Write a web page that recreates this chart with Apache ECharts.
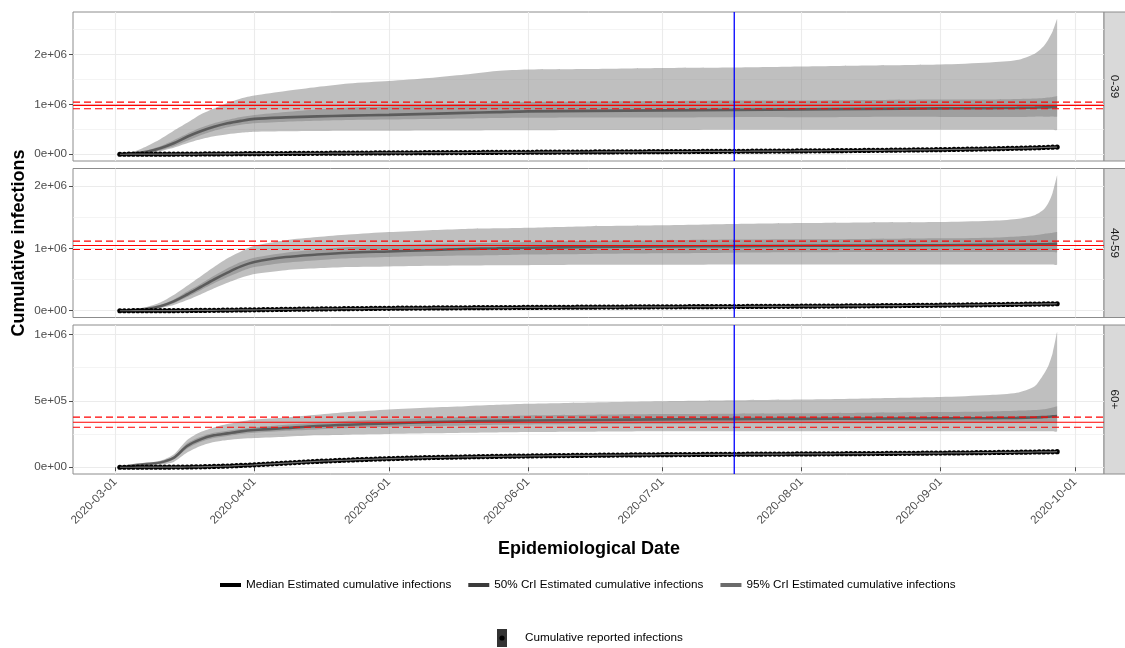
<!DOCTYPE html>
<html><head><meta charset="utf-8">
<script src="https://cdn.jsdelivr.net/npm/echarts@6/dist/echarts.min.js"></script>
<style>html,body{margin:0;padding:0;background:#fff}#c{width:1125px;height:648px}</style>
</head><body><div id="c"></div>
<script>
// ---------------- DATA ----------------
const panels = ['0-39', '40-59', '60+'];
const xTickLabels = ['2020-03-01','2020-04-01','2020-05-01','2020-06-01','2020-07-01','2020-08-01','2020-09-01','2020-10-01'];
const yTicks = [[0, 1e6, 2e6], [0, 1e6, 2e6], [0, 5e5, 1e6]];
const yTickLabels = [['0e+00','1e+06','2e+06'], ['0e+00','1e+06','2e+06'], ['0e+00','5e+05','1e+06']];
const yMinorTicks = [[5e5, 1.5e6, 2.5e6], [5e5, 1.5e6], [2.5e5, 7.5e5]];

// dates at which the estimated curves were read (values in millions)
const bandDates = ['2020-03-02','2020-03-05','2020-03-08','2020-03-11','2020-03-14','2020-03-17','2020-03-20','2020-03-23','2020-03-26','2020-03-29','2020-04-01','2020-04-08','2020-04-15','2020-04-22','2020-05-01','2020-05-10','2020-05-18','2020-05-25','2020-06-01','2020-06-15','2020-07-01','2020-07-17','2020-08-01','2020-08-16','2020-09-01','2020-09-12','2020-09-18','2020-09-22','2020-09-24','2020-09-25','2020-09-26','2020-09-27'];

const med_0_39  = [0,0.02,0.05,0.12,0.22,0.35,0.46,0.55,0.62,0.67,0.71,0.74,0.76,0.775,0.79,0.81,0.83,0.845,0.86,0.87,0.88,0.89,0.9,0.91,0.92,0.925,0.93,0.935,0.94,0.94,0.945,0.95];
const hi95_0_39 = [0,0.05,0.16,0.3,0.47,0.63,0.8,0.92,1.03,1.12,1.18,1.27,1.35,1.42,1.47,1.53,1.6,1.67,1.7,1.71,1.73,1.74,1.76,1.78,1.8,1.84,1.89,2.02,2.17,2.3,2.47,2.72];
const lo95_0_39 = [0,0,0.02,0.06,0.13,0.22,0.3,0.36,0.4,0.43,0.45,0.46,0.465,0.47,0.47,0.475,0.475,0.48,0.48,0.485,0.485,0.49,0.49,0.49,0.49,0.49,0.49,0.49,0.49,0.49,0.49,0.49];
const hi50_0_39 = [0,0.03,0.08,0.16,0.28,0.41,0.53,0.62,0.69,0.75,0.79,0.85,0.9,0.94,0.96,0.99,1.01,1.03,1.05,1.06,1.07,1.08,1.08,1.09,1.1,1.1,1.11,1.12,1.13,1.14,1.15,1.17];
const lo50_0_39 = [0,0.01,0.03,0.08,0.16,0.27,0.38,0.47,0.54,0.59,0.62,0.65,0.67,0.685,0.695,0.705,0.715,0.725,0.73,0.735,0.74,0.745,0.745,0.75,0.75,0.75,0.75,0.755,0.755,0.755,0.76,0.76];

const med_40_59  = [0,0.01,0.03,0.07,0.15,0.26,0.38,0.5,0.61,0.71,0.78,0.86,0.9,0.93,0.95,0.97,0.99,1.0,1.01,1.02,1.03,1.035,1.04,1.045,1.05,1.055,1.058,1.062,1.065,1.067,1.07,1.072];
const hi95_40_59 = [0,0.02,0.06,0.13,0.25,0.4,0.55,0.7,0.84,0.95,1.04,1.13,1.18,1.22,1.26,1.29,1.31,1.32,1.33,1.355,1.37,1.39,1.405,1.415,1.42,1.44,1.47,1.53,1.62,1.72,1.89,2.17];
const lo95_40_59 = [0,0,0.01,0.04,0.09,0.17,0.26,0.36,0.45,0.53,0.59,0.65,0.68,0.7,0.71,0.72,0.725,0.73,0.73,0.735,0.735,0.74,0.74,0.74,0.74,0.74,0.74,0.74,0.74,0.74,0.74,0.74];
const hi50_40_59 = [0,0.012,0.04,0.09,0.18,0.31,0.43,0.56,0.68,0.78,0.85,0.93,0.98,1.02,1.05,1.07,1.08,1.09,1.1,1.12,1.13,1.14,1.145,1.15,1.16,1.17,1.19,1.21,1.23,1.24,1.25,1.26];
const lo50_40_59 = [0,0.006,0.02,0.05,0.12,0.22,0.33,0.44,0.54,0.63,0.7,0.77,0.81,0.84,0.86,0.875,0.885,0.89,0.9,0.91,0.92,0.93,0.935,0.94,0.94,0.94,0.94,0.94,0.94,0.94,0.94,0.94];

const med_60  = [0,0.015,0.025,0.035,0.07,0.16,0.21,0.24,0.255,0.27,0.28,0.295,0.31,0.32,0.33,0.34,0.345,0.35,0.352,0.356,0.36,0.362,0.364,0.366,0.368,0.37,0.372,0.375,0.378,0.38,0.383,0.386];
const hi95_60 = [0,0.022,0.033,0.048,0.095,0.205,0.265,0.3,0.325,0.345,0.36,0.375,0.395,0.415,0.435,0.45,0.46,0.47,0.478,0.488,0.497,0.504,0.51,0.518,0.528,0.543,0.56,0.61,0.7,0.76,0.86,1.02];
const lo95_60 = [0,0.005,0.012,0.02,0.04,0.11,0.16,0.19,0.205,0.215,0.22,0.23,0.24,0.245,0.25,0.255,0.26,0.262,0.265,0.267,0.27,0.27,0.27,0.27,0.27,0.27,0.27,0.27,0.27,0.27,0.27,0.27];
const hi50_60 = [0,0.017,0.028,0.04,0.08,0.18,0.23,0.26,0.275,0.29,0.3,0.32,0.335,0.35,0.36,0.37,0.378,0.385,0.39,0.395,0.4,0.403,0.406,0.41,0.415,0.42,0.425,0.43,0.437,0.443,0.45,0.46];
const lo50_60 = [0,0.012,0.02,0.03,0.06,0.14,0.19,0.22,0.235,0.25,0.26,0.275,0.285,0.295,0.305,0.31,0.315,0.32,0.322,0.325,0.328,0.33,0.331,0.332,0.333,0.334,0.334,0.335,0.335,0.335,0.335,0.335];

// daily cumulative reported infections (thousands), one value per day from reportStart
const reportStart = '2020-03-02';
const rep_0_39 = [
0,0,0.1,0.1,0.2,0.3,0.4,0.5,0.7,0.9,1.1,1.4,1.7,2.1,2.5,3.0,3.5,4.0,4.6,5.2,5.8,6.4,7.0,7.6,8.1,8.7,9.2,9.7,10.2,10.7,
11.2,11.8,12.3,12.9,13.4,13.9,14.5,15.0,15.5,16.1,16.6,17.1,17.6,18.2,18.7,19.2,19.7,20.3,20.8,21.3,21.8,22.3,22.8,23.4,23.9,24.4,24.9,25.4,25.9,26.4,
26.8,27.2,27.7,28.1,28.5,28.9,29.3,29.8,30.2,30.6,31.0,31.4,31.8,32.3,32.7,33.1,33.5,33.9,34.3,34.7,35.1,35.5,35.9,36.3,36.7,37.2,37.6,38.0,38.4,38.8,39.2,
39.6,40.0,40.3,40.7,41.2,41.6,41.9,42.3,42.8,43.2,43.5,43.9,44.4,44.8,45.1,45.5,46.0,46.4,46.7,47.1,47.6,48.0,48.3,48.7,49.2,49.6,49.9,50.3,50.8,51.2,
51.6,52.0,52.5,52.9,53.3,53.8,54.2,54.6,55.1,55.5,55.9,56.4,56.8,57.3,57.7,58.2,58.7,59.1,59.6,60.1,60.6,61.1,61.6,62.1,62.6,63.1,63.7,64.2,64.8,65.3,65.9,
66.5,67.1,67.7,68.3,68.9,69.6,70.2,70.9,71.6,72.3,73.0,73.7,74.5,75.2,76.0,76.8,77.6,78.4,79.3,80.1,81.0,81.9,82.8,83.7,84.7,85.7,86.7,87.7,88.8,89.9,91.0,
92.2,93.5,94.8,96.2,97.6,99.0,100.5,102.0,103.6,105.2,106.9,108.6,110.4,112.2,114.1,116.0,118.0,120.0,122.1,124.3,126.8,129.4,132.1,134.9,137.8,140.8,144.0];
const rep_40_59 = [
0,0,0,0.1,0.1,0.2,0.3,0.4,0.5,0.7,0.9,1.2,1.5,1.9,2.4,2.9,3.5,4.1,4.8,5.5,6.3,7.1,7.9,8.7,9.6,10.4,11.3,12.1,13.0,13.8,
14.8,15.8,16.8,17.8,18.8,19.7,20.7,21.6,22.5,23.4,24.3,25.2,26.0,26.9,27.7,28.5,29.3,30.1,30.9,31.6,32.4,33.1,33.8,34.5,35.2,35.9,36.5,37.2,37.8,38.4,
39.0,39.6,40.1,40.7,41.2,41.7,42.2,42.7,43.2,43.7,44.2,44.6,45.1,45.5,46.0,46.4,46.8,47.3,47.7,48.1,48.5,48.9,49.3,49.7,50.1,50.5,50.9,51.3,51.6,52.0,52.4,
52.7,53.1,53.4,53.8,54.1,54.5,54.8,55.1,55.5,55.8,56.1,56.5,56.8,57.1,57.4,57.7,58.1,58.4,58.7,59.0,59.3,59.6,59.9,60.2,60.6,60.9,61.2,61.5,61.8,62.1,
62.4,62.7,63.0,63.3,63.6,63.9,64.2,64.5,64.8,65.1,65.4,65.7,66.0,66.3,66.6,66.9,67.2,67.5,67.9,68.2,68.5,68.8,69.1,69.5,69.8,70.1,70.5,70.8,71.2,71.5,71.9,
72.3,72.7,73.1,73.5,73.9,74.3,74.7,75.2,75.6,76.1,76.5,77.0,77.5,78.0,78.5,79.0,79.5,80.0,80.6,81.1,81.7,82.3,82.8,83.4,84.0,84.6,85.2,85.9,86.5,87.2,87.8,
88.5,89.2,89.9,90.6,91.4,92.1,92.9,93.7,94.5,95.3,96.1,97.0,97.8,98.7,99.6,100.5,101.4,102.3,103.3,104.2,105.2,106.2,107.2,108.2,109.2,110.3,111.4];
const rep_60 = [
0,0,0,0,0.1,0.1,0.2,0.2,0.3,0.4,0.5,0.7,0.9,1.1,1.4,1.8,2.2,2.7,3.3,4.0,4.8,5.7,6.7,7.8,9.0,10.3,11.7,13.2,14.8,16.4,
18.1,20.0,21.9,23.9,25.8,27.7,29.6,31.5,33.4,35.2,37.0,38.8,40.5,42.2,43.8,45.4,46.9,48.4,49.9,51.3,52.7,54.0,55.3,56.6,57.8,59.0,60.2,61.3,62.4,63.5,
64.5,65.5,66.5,67.4,68.3,69.2,70.0,70.8,71.6,72.4,73.1,73.8,74.5,75.2,75.8,76.5,77.1,77.7,78.3,78.9,79.4,80.0,80.5,81.0,81.5,82.0,82.5,83.0,83.4,83.9,84.3,
84.7,85.1,85.5,85.9,86.3,86.7,87.1,87.4,87.8,88.1,88.5,88.8,89.1,89.5,89.8,90.1,90.4,90.7,91.0,91.3,91.6,91.9,92.2,92.4,92.7,93.0,93.2,93.5,93.7,94.0,
94.2,94.4,94.7,94.9,95.1,95.3,95.5,95.7,95.9,96.1,96.3,96.5,96.7,96.9,97.1,97.3,97.5,97.7,97.8,98.0,98.2,98.4,98.5,98.7,98.9,99.0,99.2,99.4,99.5,99.7,99.9,
100.0,100.2,100.4,100.5,100.7,100.9,101.0,101.2,101.4,101.6,101.8,102.0,102.2,102.4,102.6,102.8,103.0,103.2,103.4,103.7,103.9,104.1,104.4,104.6,104.9,105.1,105.4,105.6,105.9,106.2,106.5,
106.8,107.1,107.4,107.7,108.0,108.4,108.7,109.0,109.4,109.7,110.1,110.5,110.8,111.2,111.6,112.0,112.4,112.8,113.2,113.6,114.0,114.5,114.9,115.4,115.8,116.3,116.8];

// reference (red) lines per panel, in millions
const refMid = [0.98, 1.045, 0.339];
const refLo  = [0.914, 0.98, 0.301];
const refHi  = [1.046, 1.115, 0.377];
const interventionDate = '2020-07-17';

const NAME_MED = 'Median Estimated cumulative infections';
const NAME_50 = '50% CrI Estimated cumulative infections';
const NAME_95 = '95% CrI Estimated cumulative infections';
const NAME_REP = 'Cumulative reported infections';

// ---------------- BUILD ----------------
const FONT = "'Liberation Sans', Arial, Helvetica, sans-serif";
const DAY = 86400000;
const toT = s => Date.UTC(+s.slice(0, 4), +s.slice(5, 7) - 1, +s.slice(8, 10));
const panelData = [
  {med: med_0_39, hi95: hi95_0_39, lo95: lo95_0_39, hi50: hi50_0_39, lo50: lo50_0_39, rep: rep_0_39},
  {med: med_40_59, hi95: hi95_40_59, lo95: lo95_40_59, hi50: hi50_40_59, lo50: lo50_40_59, rep: rep_40_59},
  {med: med_60, hi95: hi95_60, lo95: lo95_60, hi50: hi50_60, lo50: lo50_60, rep: rep_60}
];
const bandX = bandDates.map(toT);
const xTickVals = xTickLabels.map(toT);
const t0 = toT(reportStart);
const nRep = Math.max(rep_0_39.length, rep_40_59.length, rep_60.length);
const tEnd = t0 + (nRep - 1) * DAY;
const xSpan = tEnd - t0;
const xMin = t0 - 0.05 * xSpan, xMax = tEnd + 0.05 * xSpan;
const tBlue = toT(interventionDate);

const gridTop = [12, 168.5, 325], gridH = 149, gridLeft = 73, gridRight = 21;
const grid = [], xAxis = [], yAxis = [], series = [], graphic = [];
const borderCol = '#8c8c8c';
const BAND_FILL = 'rgba(127,127,127,0.5)';

function bandSeries(p, lo, hi, name, z) {
  return {
    type: 'custom', name, xAxisIndex: p, yAxisIndex: 2 * p, z, silent: true, animation: false,
    data: bandX.map((x, i) => [x, lo[i] * 1e6, hi[i] * 1e6]),
    encode: {x: 0, y: [1, 2]},
    itemStyle: {color: BAND_FILL},
    renderItem: (params, api) => {
      if (params.dataIndex !== 0) return null;
      const up = bandX.map((x, i) => api.coord([x, hi[i] * 1e6]));
      const dn = bandX.map((x, i) => api.coord([x, lo[i] * 1e6])).reverse();
      const pts = up.concat(dn);
      let x0 = Infinity, y0 = Infinity, x1 = -Infinity, y1 = -Infinity;
      pts.forEach(q => { x0 = Math.min(x0, q[0]); y0 = Math.min(y0, q[1]); x1 = Math.max(x1, q[0]); y1 = Math.max(y1, q[1]); });
      return {type: 'polygon', shape: {points: pts, smooth: 0.25, smoothConstraint: [[x0, y0], [x1, y1]]},
        style: {fill: BAND_FILL, stroke: null}};
    }
  };
}
function hLine(p, xs, ys, color, dashed, width, z) {
  return {type: 'line', name: '_ref', xAxisIndex: p, yAxisIndex: 2 * p,
    data: xs.map((x, i) => [x, ys[i]]), symbol: 'none', silent: true, animation: false, z,
    lineStyle: {color, width, type: dashed ? [7, 4] : 'solid'}};
}

panels.forEach((pn, p) => {
  const D = panelData[p];
  const dMax = Math.max(...D.hi95, ...D.med, ...D.rep.map(v => v / 1000)) * 1e6;
  const yMin = -0.05 * dMax, yMax = dMax * 1.05;
  grid.push({left: gridLeft, right: gridRight, top: gridTop[p], height: gridH, show: true,
    borderColor: borderCol, borderWidth: 1, backgroundColor: 'rgba(0,0,0,0)'});
  xAxis.push({
    gridIndex: p, type: 'value', min: xMin, max: xMax,
    axisLine: {show: false},
    axisTick: {show: p === 2, length: 4, lineStyle: {color: '#4d4d4d', width: 1}, customValues: xTickVals},
    axisLabel: {show: p === 2, customValues: xTickVals, rotate: 45, margin: 6, color: '#4d4d4d',
      fontSize: 11.7, fontFamily: FONT,
      formatter: v => { const i = xTickVals.indexOf(v); return i >= 0 ? xTickLabels[i] : ''; }},
    splitLine: {show: true, lineStyle: {color: '#ebebeb', width: 1.1}}
  });
  yAxis.push({
    gridIndex: p, type: 'value', min: yMin, max: yMax, position: 'left',
    axisLine: {show: false},
    axisTick: {show: true, length: 4, lineStyle: {color: '#4d4d4d', width: 1}, customValues: yTicks[p]},
    axisLabel: {customValues: yTicks[p], margin: 6, color: '#4d4d4d', fontSize: 11.7, fontFamily: FONT,
      formatter: v => { const i = yTicks[p].indexOf(v); return i >= 0 ? yTickLabels[p][i] : ''; }},
    splitLine: {show: true, lineStyle: {color: '#ebebeb', width: 1.1}}
  });
  yAxis.push({
    gridIndex: p, type: 'value', min: yMin, max: yMax, position: 'right',
    axisLine: {show: false},
    axisTick: {show: false, customValues: yMinorTicks[p]},
    axisLabel: {show: false},
    splitLine: {show: true, lineStyle: {color: '#efefef', width: 0.7}}
  });
  const yi = 2 * p;
  series.push(bandSeries(p, D.lo95, D.hi95, NAME_95, 1));
  series.push(bandSeries(p, D.lo50, D.hi50, NAME_50, 2));
  series.push({type: 'line', name: NAME_MED, xAxisIndex: p, yAxisIndex: yi, symbol: 'none',
    smooth: 0.3, silent: true, animation: false,
    data: bandX.map((x, i) => [x, D.med[i] * 1e6]),
    itemStyle: {color: '#000'},
    lineStyle: {color: 'rgba(0,0,0,0.42)', width: 2.6}, z: 3});
  const repData = D.rep.map((v, i) => [t0 + i * DAY, v * 1000]);
  series.push({type: 'scatter', name: NAME_REP, xAxisIndex: p, yAxisIndex: yi, data: repData,
    symbol: 'circle', symbolSize: 5.2, itemStyle: {color: '#000', opacity: 1}, silent: true, animation: false, z: 4});
  series.push({type: 'line', name: NAME_REP, xAxisIndex: p, yAxisIndex: yi, data: repData,
    symbol: 'none', lineStyle: {color: '#6e6e6e', width: 1.2}, itemStyle: {color: '#333'}, silent: true, animation: false, z: 5});
  // reference lines (red) and intervention date (blue)
  series.push(hLine(p, [xMin, xMax], [refMid[p] * 1e6, refMid[p] * 1e6], '#ff0000', false, 1.1, 6));
  series.push(hLine(p, [xMin, xMax], [refLo[p] * 1e6, refLo[p] * 1e6], '#ff0000', true, 1.1, 6));
  series.push(hLine(p, [xMin, xMax], [refHi[p] * 1e6, refHi[p] * 1e6], '#ff0000', true, 1.1, 6));
  series.push(hLine(p, [tBlue, tBlue], [yMin, yMax], '#0000ff', false, 1.3, 7));
  // facet strip
  graphic.push({type: 'rect', shape: {x: 1104, y: gridTop[p], width: 23, height: gridH},
    style: {fill: '#d9d9d9', stroke: borderCol, lineWidth: 1}, silent: true});
  graphic.push({type: 'text', x: 1114.5, y: gridTop[p] + gridH / 2, rotation: -Math.PI / 2,
    style: {text: pn, fill: '#1a1a1a', font: '11.7px ' + FONT, textAlign: 'center', textVerticalAlign: 'middle'}, silent: true});
});

graphic.push({type: 'text', x: 19, y: 243, rotation: Math.PI / 2,
  style: {text: 'Cumulative infections', fill: '#000', font: 'bold 18px ' + FONT, textAlign: 'center', textVerticalAlign: 'middle'}});
graphic.push({type: 'text', x: 589, y: 549,
  style: {text: 'Epidemiological Date', fill: '#000', font: 'bold 18px ' + FONT, textAlign: 'center', textVerticalAlign: 'middle'}});

const repIconSvg = '<svg xmlns="http://www.w3.org/2000/svg" width="23" height="18" viewBox="0 0 23 18">' +
  '<rect x="0" y="0" width="10" height="18" fill="#333333"/><circle cx="5" cy="9" r="2.6" fill="#000"/></svg>';

const option = {
  animation: false,
  backgroundColor: '#ffffff',
  textStyle: {fontFamily: FONT},
  grid, xAxis, yAxis, series, graphic,
  legend: [
    {left: 220, top: 579, padding: 0, itemGap: 17, itemWidth: 21, itemHeight: 4, selectedMode: false,
      textStyle: {fontSize: 11.7, color: '#000', fontFamily: FONT},
      data: [
        {name: NAME_MED, icon: 'rect', itemStyle: {color: '#000000', borderWidth: 0}},
        {name: NAME_50, icon: 'rect', itemStyle: {color: '#3b3b3b', borderWidth: 0}},
        {name: NAME_95, icon: 'rect', itemStyle: {color: '#6b6b6b', borderWidth: 0}}
      ]},
    {left: 497, top: 629, padding: 0, itemWidth: 23, itemHeight: 18, selectedMode: false,
      textStyle: {fontSize: 11.7, color: '#000', fontFamily: FONT},
      data: [{name: NAME_REP, icon: 'image://data:image/svg+xml;charset=utf-8,' + encodeURIComponent(repIconSvg)}]}
  ]
};
const chart = echarts.init(document.getElementById('c'), null, {renderer: 'canvas'});
chart.setOption(option);
</script>
</body></html>
